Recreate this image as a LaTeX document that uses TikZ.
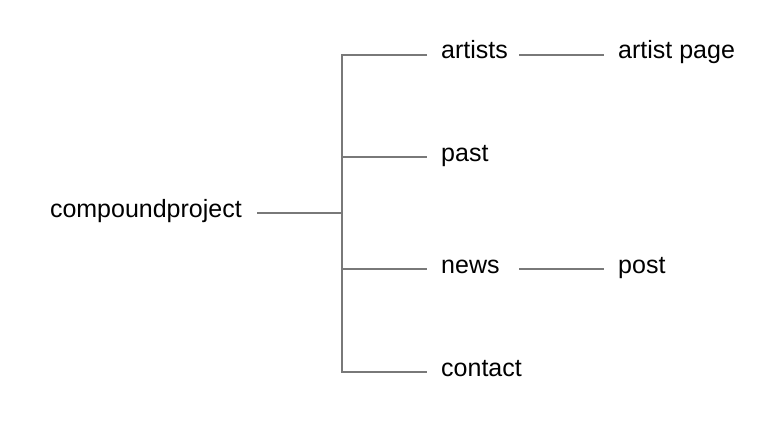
\documentclass[tikz,border=0pt]{standalone}
\usepackage{fontspec}
\setmainfont{Liberation Sans}
\begin{document}
\begin{tikzpicture} [
                x=1pt, y=-1pt,
                page/.style={font=\fontsize{25}{30}\selectfont, inner xsep=14pt, inner ysep=0pt,
                    text height=14pt, text depth=6pt},
                edge/.style = {draw, line width=1.4pt, gray!95!black, -},
            ]
            \useasboundingbox (0,0) rectangle (781,420);
            % First we place the pages
            \node[page, anchor=east, inner xsep=15pt] (root) at (257,213) {compoundproject};
            \foreach \y/\name/\label in {
                    55/artists/artists, 157/past/past, 269/news/news, 372/contact/contact}
                \node[page, anchor=west] (\name) at (427,\y) {\label};
            \node[page, anchor=west] (artistpage) at (604,55) {artist page};
            \node[page, anchor=west] (post) at (604,269) {post};
            \coordinate (trunk) at (342,213);
            \coordinate (col) at (519,0);
            % Connect the pages
            \path[edge] (root.east) -- (trunk);
            \path[edge] (artists.west) -| (trunk) |- (contact.west);
            \foreach \dest in {past, news}
                \path[edge] (trunk |- \dest.west) -- (\dest.west);
            \foreach \source/\dest in {artists/artistpage, news/post}
                \path[edge] (col |- \source.east) -- (\dest.west);
        \end{tikzpicture}
\end{document}
